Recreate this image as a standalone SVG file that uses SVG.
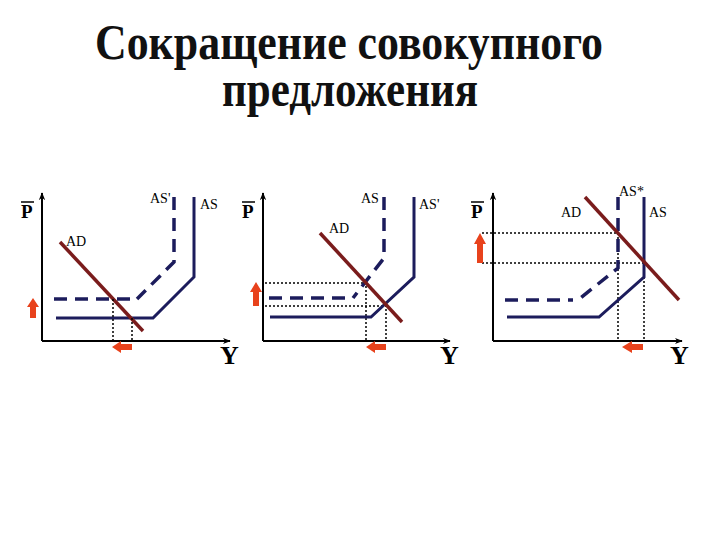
<svg xmlns="http://www.w3.org/2000/svg" width="720" height="540" viewBox="0 0 720 540">
<defs>
<marker id="ax" viewBox="0 0 10 10" refX="9" refY="5" markerWidth="8" markerHeight="8" markerUnits="userSpaceOnUse" orient="auto"><path d="M0,1 L10,5 L0,9 L3,5 Z" fill="#000"/></marker>
<style>
.title{font-family:"Liberation Serif",serif;font-weight:bold;font-size:50px;fill:#111;text-anchor:middle}
.lbl{font-family:"Liberation Serif",serif;font-size:14px;fill:#000}
.big{font-family:"Liberation Serif",serif;font-weight:bold;font-size:26px;fill:#000}
.p{font-family:"Liberation Serif",serif;font-weight:bold;font-size:19px;fill:#000}
.axis{stroke:#000;stroke-width:2;fill:none;marker-end:url(#ax)}
.as{stroke:#1c1c5c;stroke-width:3;fill:none;stroke-linejoin:miter}
.asd{stroke:#1c1c5c;stroke-width:3.5;fill:none;stroke-dasharray:13 8}
.ad{stroke:#7a1c1c;stroke-width:3.5;fill:none}
.dot{stroke:#000;stroke-width:1.5;fill:none;stroke-dasharray:2 2}
.arr{fill:#e8421c}
</style>
</defs>
<rect width="720" height="540" fill="#fff"/>
<g id="title">
<text class="title" x="349" y="59" textLength="508" lengthAdjust="spacingAndGlyphs">Сокращение совокупного</text>
<text class="title" x="350" y="106" textLength="256" lengthAdjust="spacingAndGlyphs">предложения</text>
</g>

<g id="panel1">
<g id="axes1">
<path class="axis" d="M42,341 V193"/>
<path class="axis" d="M42,341 H230"/>
<text class="p" x="21" y="218">P</text><path d="M21,202 H34" stroke="#000" stroke-width="1.5"/>
<text class="big" x="220" y="364">Y</text>
</g>
<g id="curves1">
<path class="as" d="M194,197 V277 L153,318 H56"/>
<path class="asd" d="M174,197 V262 L137,299"/>
<path class="asd" d="M54,299 H131"/>
<path class="ad" d="M60,242 L143,331"/>
<path class="dot" d="M113,299 V341 M132,318 V341"/>
<text class="lbl" x="150" y="203">AS'</text>
<text class="lbl" x="200" y="209">AS</text>
<text class="lbl" x="66" y="246">AD</text>
</g>
<g id="arrows1">
<path class="arr" d="M30,318 V307 H27 L33,298 L39,307 H36 V318 Z"/>
<path class="arr" d="M132,344 H121 V341 L112,347 L121,353 V350 H132 Z"/>
</g>
</g>

<g id="panel2">
<g id="axes2">
<path class="axis" d="M263,341 V193"/>
<path class="axis" d="M263,341 H450"/>
<text class="p" x="242" y="218">P</text><path d="M242,202 H255" stroke="#000" stroke-width="1.5"/>
<text class="big" x="440" y="364">Y</text>
</g>
<g id="curves2">
<path class="dot" d="M265,283 H366 V341 M265,306 H386 V341"/>
<path class="as" d="M414,197 V277 L371,317 H270"/>
<path class="asd" d="M384,197 V258 L353,298"/>
<path class="asd" d="M269,298 H345"/>
<path class="ad" d="M320,233 L402,322"/>
<text class="lbl" x="361" y="203">AS</text>
<text class="lbl" x="419" y="209">AS'</text>
<text class="lbl" x="329" y="233">AD</text>
</g>
<g id="arrows2">
<path class="arr" d="M253,306 V292 H250 L256,282 L262,292 H259 V306 Z"/>
<path class="arr" d="M386,344 H375 V341 L366,347 L375,353 V350 H386 Z"/>
</g>
</g>

<g id="panel3">
<g id="axes3">
<path class="axis" d="M493,341 V193"/>
<path class="axis" d="M493,341 H682"/>
<text class="p" x="471" y="218">P</text><path d="M471,202 H484" stroke="#000" stroke-width="1.5"/>
<text class="big" x="670" y="364">Y</text>
</g>
<g id="curves3">
<path class="dot" d="M482,233 H618 V341 M482,263 H644 V341"/>
<path class="as" d="M644,197 V277 L599,317 H507"/>
<path class="asd" d="M618,197 V268 L578,300"/>
<path class="asd" d="M505,300 H573"/>
<path class="ad" d="M585,197 L679,300"/>
<text class="lbl" x="619" y="196">AS*</text>
<text class="lbl" x="649" y="217">AS</text>
<text class="lbl" x="561" y="217">AD</text>
</g>
<g id="arrows3">
<path class="arr" d="M477,263 V244 H474 L480,233 L486,244 H483 V263 Z"/>
<path class="arr" d="M643,344 H632 V341 L622,347 L632,353 V350 H643 Z"/>
</g>
</g>
</svg>
